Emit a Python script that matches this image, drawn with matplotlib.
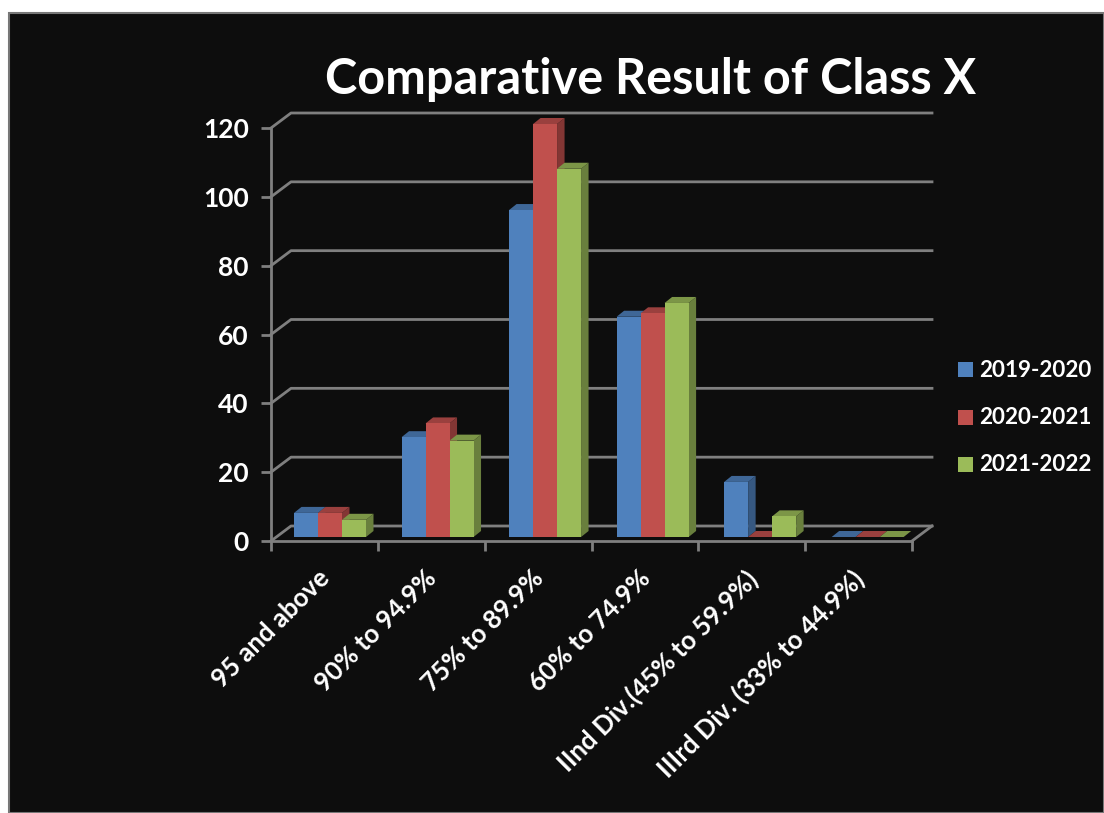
import matplotlib
matplotlib.use("Agg")
import matplotlib.pyplot as plt
from matplotlib.patches import Polygon, Rectangle
from matplotlib.colors import to_rgb

categories = ["95 and above", "90% to 94.9%", "75% to 89.9%", "60% to 74.9%",
              "IInd Div.(45% to 59.9%)", "IIIrd Div. (33% to 44.9%)"]
series_names = ["2019-2020", "2020-2021", "2021-2022"]
v2019 = [7, 29, 95, 64, 16, 0]
v2020 = [7, 33, 120, 65, 0, 0]
v2021 = [5, 28, 107, 68, 6, 0]
colors = ["#4f81bd", "#c0504d", "#9bbb59"]
yticks = [0, 20, 40, 60, 80, 100, 120]

W, H = 1104, 813
GRID = "#7f7f7f"
BG = "#0d0d0d"
plt.rcParams["font.family"] = ["Lato", "DejaVu Sans"]
plt.rcParams["font.weight"] = "bold"

fig = plt.figure(figsize=(W / 100, H / 100), dpi=100, facecolor="white")

# dark slide panel behind everything
fig.patches.append(Rectangle((9 / W, 0), 1 - 9 / W, 1 - 13 / H, transform=fig.transFigure,
                             facecolor=BG, edgecolor="#777777", linewidth=1.5, zorder=-1))

# front axis: x 271-912, y 541-128 in pixels
ax = fig.add_axes([271 / W, 1 - 541 / H, (912 - 271) / W, (541 - 128) / H])
ax.set_xlim(0, 6)
ax.set_ylim(0, 120)
ax.patch.set_alpha(0)
for s in ["top", "right"]:
    ax.spines[s].set_visible(False)
for s in ["left", "bottom"]:
    ax.spines[s].set_color(GRID)
    ax.spines[s].set_linewidth(2)

px = 6 / (912 - 271)      # one pixel in x data units
py = 120 / (541 - 128)    # one pixel in y data units
depth_x, depth_y = 20 * px, 15 * py


def shade(c, f=0.75):
    return tuple(v * f for v in to_rgb(c))


# back wall gridlines, left wall and floor edges
for t in yticks:
    ax.plot([0, depth_x, 6 + depth_x], [t, t + depth_y, t + depth_y], color=GRID, lw=2,
            clip_on=False, zorder=1)
ax.plot([6, 6 + depth_x], [0, depth_y], color=GRID, lw=2, clip_on=False, zorder=1)

# bars
bar_w = 24 * px
gap = 17 * px
off_x, off_y = 6 * px, 4 * py
side_x, side_y = 7.5 * px, 6 * py
drift = 0.7 * px   # groups sit a bit further apart than the ticks
z = 3
for c in range(len(categories)):
    for k, vals in enumerate([v2019, v2020, v2021]):
        col = colors[k]
        v = vals[c]
        x0 = c + c * drift + gap + off_x + k * bar_w
        x1 = x0 + bar_w
        y0 = off_y
        y1 = off_y + v
        ax.add_patch(Polygon([(x1, y0), (x1 + side_x, y0 + side_y), (x1 + side_x, y1 + side_y), (x1, y1)],
                             facecolor=shade(col, 0.68), edgecolor="none", clip_on=False, zorder=z))
        ax.add_patch(Polygon([(x0, y1), (x1, y1), (x1 + side_x, y1 + side_y), (x0 + side_x, y1 + side_y)],
                             facecolor=shade(col, 0.8), edgecolor="none", clip_on=False, zorder=z))
        ax.add_patch(Polygon([(x0, y0), (x1, y0), (x1, y1), (x0, y1)],
                             facecolor=col, edgecolor="none", clip_on=False, zorder=z))
        z += 1

# ticks and labels
ax.set_yticks(yticks)
ax.set_xticks(range(7))
ax.set_xticklabels([])
ax.tick_params(axis="both", which="major", color=GRID, width=2, length=7)
ax.tick_params(axis="y", labelcolor="white", labelsize=19, pad=9)
ax.set_xticks([i + 0.5 - 7 * px for i in range(6)], minor=True)
ax.set_xticklabels(categories, minor=True, rotation=45, ha="right", va="top",
                   rotation_mode="anchor", color="white", fontsize=18.5)
ax.tick_params(axis="x", which="minor", length=0, pad=18)

fig.text(651 / W, 1 - 79 / H, "Comparative Result of Class X", color="white", fontsize=35,
         ha="center", va="center", fontweight="bold")

# legend
for name, col, y in zip(series_names, colors, [370, 417, 464]):
    fig.patches.append(Rectangle((958 / W, 1 - (y + 7.5) / H), 15 / W, 15 / H, transform=fig.transFigure,
                                 facecolor=col, edgecolor="none"))
    fig.text(979 / W, 1 - y / H, name, color="white", fontsize=16.2, ha="left", va="center")

fig.savefig("out.png", dpi=100, facecolor="white")
